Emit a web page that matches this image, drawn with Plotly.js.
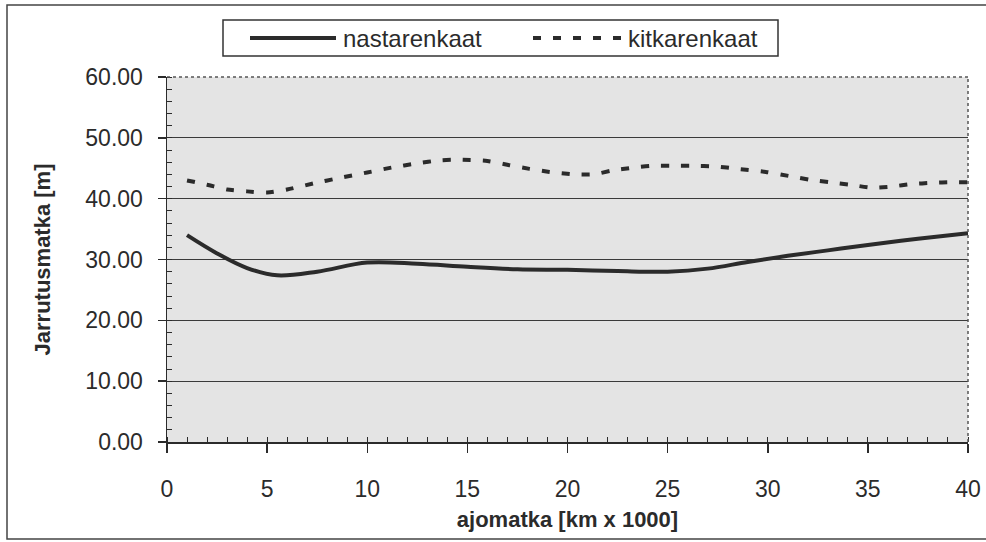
<!DOCTYPE html>
<html>
<head>
<meta charset="utf-8">
<script src="https://cdn.plot.ly/plotly-3.0.1.min.js"></script>
<style>html,body{margin:0;padding:0;background:#fff;}#chart{width:986px;height:542px;}</style>
</head>
<body>
<div id="chart"></div>
<script>
// nastarenkaat (studded tyres)
const studX = [1, 2.5, 4, 5.5, 7.5, 10, 12.5, 15, 17.5, 20, 22.5, 25, 27, 29, 31, 33, 35, 37.5, 40];
const studY = [34.0, 31.0, 28.6, 27.4, 28.0, 29.5, 29.3, 28.8, 28.4, 28.3, 28.1, 28.0, 28.5, 29.6, 30.6, 31.5, 32.4, 33.4, 34.3];
// kitkarenkaat (friction tyres)
const fricX = [1, 2, 3, 4, 5, 6, 7.3, 8.6, 10, 11.2, 12.5, 13.6, 14.6, 16, 17.1, 18.1, 19.1, 20.3, 21.3, 22.2, 23.3, 24.2, 25.2, 26.2, 27.4, 28.5, 29.9, 31.1, 32.1, 33.1, 34.1, 35.2, 36.2, 37.2, 38.2, 39.2, 40];
const fricY = [43.0, 42.3, 41.5, 41.2, 41.0, 41.5, 42.5, 43.4, 44.3, 45.1, 45.8, 46.3, 46.4, 46.2, 45.5, 44.9, 44.4, 44.0, 44.0, 44.6, 45.1, 45.4, 45.4, 45.4, 45.3, 44.9, 44.4, 43.7, 43.1, 42.7, 42.3, 41.8, 42.0, 42.4, 42.6, 42.7, 42.7];
const seriesNames = ['nastarenkaat', 'kitkarenkaat'];
const xTitle = 'ajomatka [km x 1000]';
const yTitle = 'Jarrutusmatka [m]';

const FONT = 'Liberation Sans, Arial, Helvetica, sans-serif';
const INK = '#2b2b2b';
const DASH = '8px,12px';

const traces = [
  {x: studX, y: studY, name: seriesNames[0], type: 'scatter', mode: 'lines',
   line: {color: INK, width: 4, shape: 'spline', smoothing: 1}},
  {x: fricX, y: fricY, name: seriesNames[1], type: 'scatter', mode: 'lines',
   line: {color: INK, width: 4, dash: DASH, shape: 'spline', smoothing: 0.6}}
];

const L = 167, R = 968, T = 77, B = 442;
const pw = R - L, ph = B - T;
const px = v => (v - L) / pw;
const py = v => (B - v) / ph;

const legendTextY = 38;

const layout = {
  width: 986, height: 542,
  margin: {l: L, r: 986 - R, t: T, b: 542 - B, pad: 0},
  paper_bgcolor: '#ffffff',
  plot_bgcolor: '#e4e4e4',
  font: {family: FONT, color: INK, size: 20},
  showlegend: false,
  xaxis: {
    range: [0, 40], tickmode: 'linear', tick0: 0, dtick: 5,
    showgrid: false, zeroline: false,
    showline: true, linecolor: INK, linewidth: 1.5,
    ticks: 'outside', ticklen: 9, tickwidth: 1.5, tickcolor: INK,
    ticklabelstandoff: 17,
    minor: {dtick: 1, ticks: 'inside', ticklen: 5, tickwidth: 1, tickcolor: INK, showgrid: false},
    tickfont: {family: FONT, size: 23, color: INK},
    title: {text: '<b>' + xTitle + '</b>', font: {family: FONT, size: 22, color: INK}, standoff: 10},
    fixedrange: true
  },
  yaxis: {
    range: [0, 60], tickmode: 'linear', tick0: 0, dtick: 10,
    tickformat: '.2f',
    showgrid: true, gridcolor: '#3a3a3a', gridwidth: 1.3,
    zeroline: false,
    showline: true, linecolor: INK, linewidth: 1.5,
    ticks: 'outside', ticklen: 8, tickwidth: 1.5, tickcolor: INK,
    ticklabelstandoff: 10,
    minor: {dtick: 2, ticks: 'inside', ticklen: 5, tickwidth: 1, tickcolor: INK, showgrid: false},
    tickfont: {family: FONT, size: 23, color: INK},
    title: {text: '<b>' + yTitle + '</b>', font: {family: FONT, size: 22, color: INK}, standoff: 28},
    fixedrange: true
  },
  shapes: [
    // chart frame
    {type: 'rect', xref: 'paper', yref: 'paper', x0: px(7), x1: px(996), y0: py(539), y1: py(5),
     line: {color: '#444', width: 1.5}, fillcolor: 'rgba(0,0,0,0)', layer: 'below'},
    // dotted top and right edges of plot area
    {type: 'line', xref: 'paper', yref: 'paper', x0: 0, x1: 1, y0: 1, y1: 1,
     line: {color: '#555', width: 1.5, dash: 'dot'}},
    {type: 'line', xref: 'paper', yref: 'paper', x0: 1, x1: 1, y0: 0, y1: 1,
     line: {color: '#555', width: 1.5, dash: 'dot'}},
    // legend box
    {type: 'rect', xref: 'paper', yref: 'paper', x0: px(223), x1: px(778), y0: py(56), y1: py(20),
     line: {color: '#333', width: 1.5}, fillcolor: '#ffffff'},
    // legend samples
    {type: 'line', xref: 'paper', yref: 'paper', x0: px(250), x1: px(336), y0: py(legendTextY), y1: py(legendTextY),
     line: {color: INK, width: 4}},
    {type: 'line', xref: 'paper', yref: 'paper', x0: px(533), x1: px(625), y0: py(legendTextY), y1: py(legendTextY),
     line: {color: INK, width: 4, dash: DASH}}
  ],
  annotations: [
    {xref: 'paper', yref: 'paper', x: px(341), y: py(legendTextY), xanchor: 'left', yanchor: 'middle',
     text: seriesNames[0], showarrow: false, font: {family: FONT, size: 24, color: INK}},
    {xref: 'paper', yref: 'paper', x: px(626), y: py(legendTextY), xanchor: 'left', yanchor: 'middle',
     text: seriesNames[1], showarrow: false, font: {family: FONT, size: 24, color: INK}}
  ]
};

Plotly.newPlot('chart', traces, layout, {displayModeBar: false, staticPlot: true});
</script>
</body>
</html>
